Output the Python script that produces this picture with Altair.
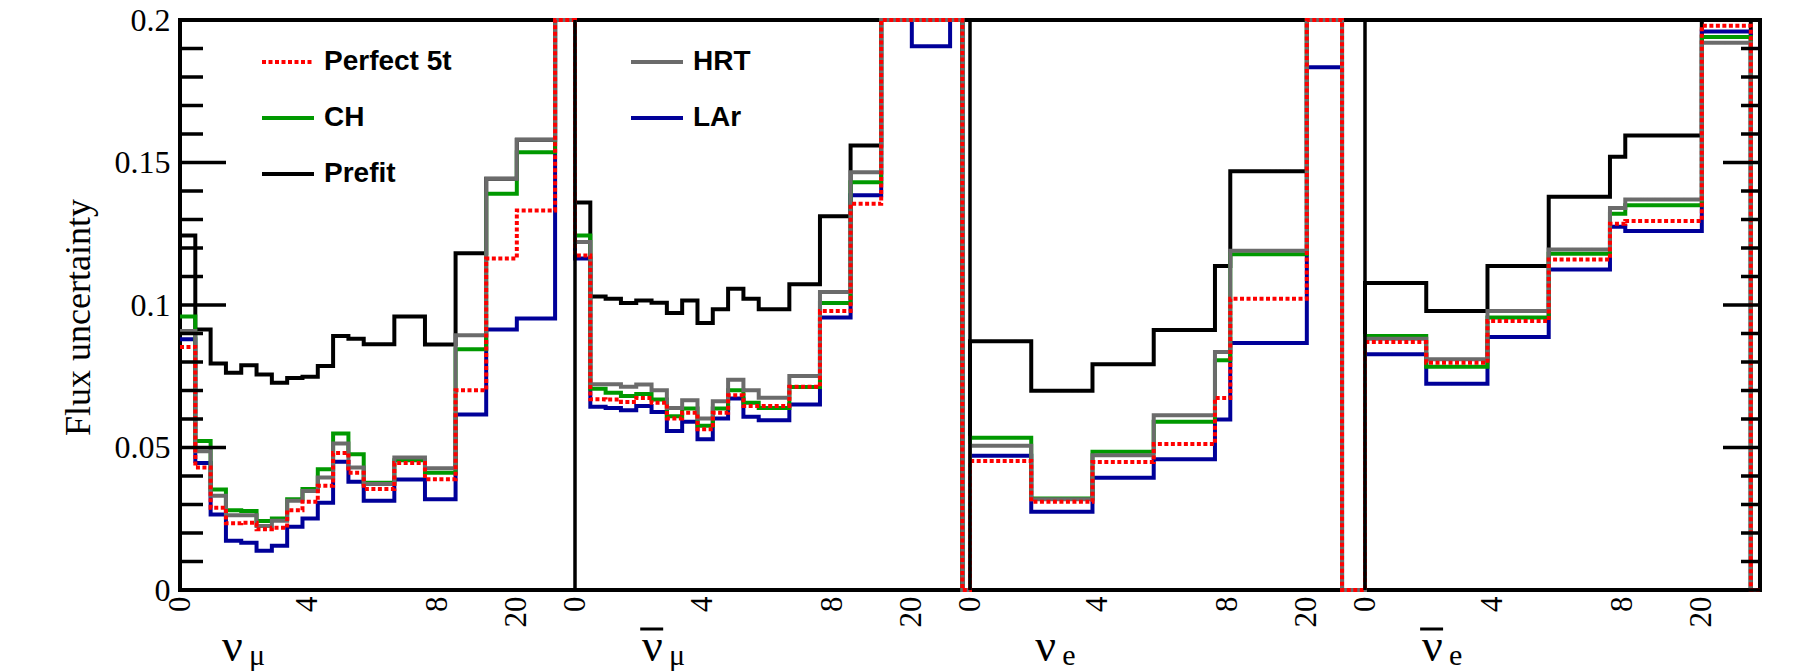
import altair as alt
import pandas as pd

# ---------------- data ----------------
PANELS = ["numu", "numubar", "nue", "nuebar"]
PANEL_WIDTH = 12.9            # axis units spanned by one flavour panel
SERIES = ["Perfect 5t", "CH", "Prefit", "HRT", "LAr"]      # legend order (column-wise, 2 columns)
COLORS = ["#ff0000", "#009900", "#000000", "#6b6b6b", "#000099"]
DASHES = [[4, 2.5], [1, 0], [1, 0], [1, 0], [1, 0]]
DRAW_ORDER = ["Prefit", "LAr", "CH", "HRT", "Perfect 5t"]  # bottom -> top

OFF = 0.25   # bin content above the 0.2 frame (drawn clipped at the top)

# bin edges (axis units) per panel
EDGES_NUMU = [0, 0.5, 1, 1.5, 2, 2.5, 3, 3.5, 4, 4.5, 5, 5.5, 6, 7, 8, 9, 10, 11, 12.25, 12.9]
EDGES_NUMUBAR = [0, 0.5, 1, 1.5, 2, 2.5, 3, 3.5, 4, 4.5, 5, 5.5, 6, 7, 8, 9, 10, 11, 12.25, 12.65, 12.9]
EDGES_NUE = [0, 2, 4, 6, 8, 8.5, 11, 12.15, 12.9]
EDGES_NUEBAR = [0, 2, 4, 6, 8, 8.5, 11, 12.6, 12.9]

# nu_mu
NUMU_PREFIT = [0.1244, 0.0914, 0.0795, 0.0762, 0.0789, 0.0756, 0.0727, 0.0744, 0.0748, 0.0786,
               0.0891, 0.0882, 0.0862, 0.0960, 0.0861, 0.1182, 0.1443, 0.1580, OFF]
NUMU_CH = [0.0960, 0.0523, 0.0353, 0.0280, 0.0277, 0.0242, 0.0251, 0.0318, 0.0354, 0.0424,
           0.0549, 0.0476, 0.0376, 0.0455, 0.0411, 0.0845, 0.1390, 0.1536, OFF]
NUMU_HRT = [0.0909, 0.0487, 0.0331, 0.0262, 0.0262, 0.0225, 0.0243, 0.0313, 0.0347, 0.0395,
            0.0514, 0.0430, 0.0372, 0.0465, 0.0427, 0.0894, 0.1443, 0.1580, OFF]
NUMU_P5T = [0.0853, 0.0430, 0.0289, 0.0234, 0.0236, 0.0213, 0.0218, 0.0280, 0.0310, 0.0366,
            0.0481, 0.0411, 0.0354, 0.0446, 0.0389, 0.0701, 0.1163, 0.1332, OFF]
NUMU_LAR = [0.0880, 0.0446, 0.0265, 0.0173, 0.0166, 0.0138, 0.0155, 0.0222, 0.0251, 0.0306,
            0.0450, 0.0380, 0.0313, 0.0388, 0.0318, 0.0616, 0.0914, 0.0953, OFF]

# anti nu_mu
NUMUBAR_PREFIT = [0.1360, 0.1030, 0.1022, 0.1007, 0.1016, 0.1008, 0.0972, 0.1016, 0.0937, 0.0985,
                  0.1057, 0.1022, 0.0985, 0.1073, 0.1311, 0.1560, OFF, OFF, OFF, 0.0]
NUMUBAR_CH = [0.1244, 0.0706, 0.0692, 0.0681, 0.0688, 0.0668, 0.0610, 0.0637, 0.0576, 0.0637,
              0.0701, 0.0657, 0.0639, 0.0712, 0.1007, 0.1431, OFF, OFF, OFF, 0.0]
NUMUBAR_HRT = [0.1221, 0.0722, 0.0722, 0.0713, 0.0721, 0.0701, 0.0639, 0.0666, 0.0602, 0.0662,
               0.0738, 0.0701, 0.0675, 0.0751, 0.1046, 0.1466, OFF, OFF, OFF, 0.0]
NUMUBAR_P5T = [0.1174, 0.0669, 0.0668, 0.0660, 0.0674, 0.0657, 0.0602, 0.0622, 0.0564, 0.0622,
               0.0683, 0.0646, 0.0646, 0.0713, 0.0979, 0.1355, OFF, OFF, OFF, 0.0]
NUMUBAR_LAR = [0.1163, 0.0643, 0.0639, 0.0631, 0.0646, 0.0625, 0.0558, 0.0590, 0.0529, 0.0602,
               0.0672, 0.0608, 0.0596, 0.0651, 0.0956, 0.1385, OFF, 0.1908, OFF, 0.0]

# nu_e
NUE_PREFIT = [0.0873, 0.0699, 0.0792, 0.0912, 0.1137, 0.1469, OFF, 0.0]
NUE_CH = [0.0534, 0.0321, 0.0485, 0.0590, 0.0806, 0.1178, OFF, 0.0]
NUE_HRT = [0.0506, 0.0318, 0.0473, 0.0613, 0.0835, 0.1190, OFF, 0.0]
NUE_P5T = [0.0453, 0.0310, 0.0449, 0.0512, 0.0674, 0.1022, OFF, 0.0]
NUE_LAR = [0.0471, 0.0275, 0.0394, 0.0459, 0.0598, 0.0867, 0.1834, 0.0]

# anti nu_e
NUEBAR_PREFIT = [0.1077, 0.0979, 0.1137, 0.1380, 0.1520, 0.1595, OFF, 0.0]
NUEBAR_CH = [0.0891, 0.0783, 0.0956, 0.1180, 0.1320, 0.1350, 0.1940, 0.0]
NUEBAR_HRT = [0.0882, 0.0810, 0.0979, 0.1195, 0.1340, 0.1370, 0.1920, 0.0]
NUEBAR_P5T = [0.0870, 0.0797, 0.0944, 0.1160, 0.1285, 0.1295, 0.1980, 0.0]
NUEBAR_LAR = [0.0827, 0.0724, 0.0888, 0.1125, 0.1275, 0.1260, 0.1960, 0.0]

EDGES = {"numu": EDGES_NUMU, "numubar": EDGES_NUMUBAR, "nue": EDGES_NUE, "nuebar": EDGES_NUEBAR}
VALUES = {
    "numu": {"Prefit": NUMU_PREFIT, "CH": NUMU_CH, "HRT": NUMU_HRT, "Perfect 5t": NUMU_P5T, "LAr": NUMU_LAR},
    "numubar": {"Prefit": NUMUBAR_PREFIT, "CH": NUMUBAR_CH, "HRT": NUMUBAR_HRT, "Perfect 5t": NUMUBAR_P5T, "LAr": NUMUBAR_LAR},
    "nue": {"Prefit": NUE_PREFIT, "CH": NUE_CH, "HRT": NUE_HRT, "Perfect 5t": NUE_P5T, "LAr": NUE_LAR},
    "nuebar": {"Prefit": NUEBAR_PREFIT, "CH": NUEBAR_CH, "HRT": NUEBAR_HRT, "Perfect 5t": NUEBAR_P5T, "LAr": NUEBAR_LAR},
}

X_TICK_LABELS = ["0", "4", "8", "20"]
X_TICK_POS = [0, 4.15, 8.4, 11.0]
Y_MAJOR = [0, 0.05, 0.1, 0.15, 0.2]
Y_MINOR = [0.01, 0.02, 0.03, 0.04, 0.06, 0.07, 0.08, 0.09, 0.11, 0.12, 0.13, 0.14,
           0.16, 0.17, 0.18, 0.19]

PANEL_MAIN = ["\u03bd", "\u03bd", "\u03bd", "\u03bd"]
PANEL_ANTI = [False, True, False, True]
PANEL_SUB = ["\u03bc", "\u03bc", "e", "e"]
PANEL_LABEL_POS = [1.37, 2.19, 2.13, 1.86]
BAR_SPAN = 0.75   # overbar length in axis units

# ---------------- build tables ----------------
rows = []
for s in SERIES:
    last = None
    for k, p in enumerate(PANELS):
        e = EDGES[p]
        v = VALUES[p][s]
        for i in range(len(v)):
            rows.append({"series": s, "x": k * PANEL_WIDTH + e[i], "y": v[i]})
            last = v[i]
    rows.append({"series": s, "x": len(PANELS) * PANEL_WIDTH, "y": last})
steps = pd.DataFrame(rows)

xvals, xlabs = [], []
for k in range(len(PANELS)):
    for pos, lab in zip(X_TICK_POS, X_TICK_LABELS):
        xvals.append(round(k * PANEL_WIDTH + pos, 6))
        xlabs.append(lab)
label_expr = "[" + ",".join("'%s'" % l for l in xlabs) + "][indexof([" + \
    ",".join(repr(v) for v in xvals) + "], datum.value)]"

W, H = 1580, 570
SERIF = "Liberation Serif"

xscale = alt.Scale(domain=[0, len(PANELS) * PANEL_WIDTH], nice=False, zero=False)
yscale = alt.Scale(domain=[0, 0.2], nice=False, zero=False, clamp=True)

xaxis = alt.Axis(values=xvals, labelExpr=label_expr, labelAngle=270, labelAlign="right",
                 labelBaseline="middle", labelFont=SERIF, labelFontSize=31, labelColor="black",
                 labelPadding=6, ticks=False, domain=False, grid=False, title=None,
                 labelOverlap=False, labelFlush=False)
yaxis = alt.Axis(values=Y_MAJOR, format="~g", labelFont=SERIF, labelFontSize=32, labelColor="black",
                 labelPadding=10, ticks=False, domain=False, grid=False, labelOverlap=False,
                 labelFlush=False, title="Flux uncertainty", titleFont=SERIF, titleFontSize=36,
                 titleFontWeight="normal", titleColor="black", titleAngle=270, titleX=-102,
                 titleY=H / 2 + 12, titleAlign="center", titleBaseline="middle")

X = alt.X("x:Q", scale=xscale, axis=xaxis)
Y = alt.Y("y:Q", scale=yscale, axis=yaxis)

legend = alt.Legend(title=None, orient="none", legendX=80, legendY=28, direction="vertical",
                    columns=2, columnPadding=177, rowPadding=28, symbolType="stroke",
                    symbolSize=2704, symbolStrokeWidth=4, labelFont="Liberation Sans",
                    labelFontWeight="bold", labelFontSize=28, labelColor="black", labelOffset=8,
                    padding=0, clipHeight=28, symbolOffset=0, labelLimit=400)
color = alt.Color("series:N", scale=alt.Scale(domain=SERIES, range=COLORS), legend=legend)
dash = alt.StrokeDash("series:N", scale=alt.Scale(domain=SERIES, range=DASHES), legend=legend)

layers = []
for s in DRAW_ORDER:
    layers.append(
        alt.Chart(steps[steps.series == s]).mark_line(interpolate="step-after", strokeWidth=4)
        .encode(x=X, y=Y, color=color, strokeDash=dash)
    )

# panel separators
sep = pd.DataFrame({"x": [k * PANEL_WIDTH for k in range(1, len(PANELS))],
                    "y": [0.0] * (len(PANELS) - 1), "y2": [0.2] * (len(PANELS) - 1)})
layers.append(alt.Chart(sep).mark_rule(color="black", strokeWidth=3.5)
              .encode(x=X, y=Y, y2="y2:Q"))

# inward ticks (left and right frame)
maj = pd.DataFrame({"y": Y_MAJOR})
mnr = pd.DataFrame({"y": Y_MINOR})
for df, ln_l, ln_r in [(maj, 46, 37), (mnr, 23, 19)]:
    layers.append(alt.Chart(df).mark_rule(color="black", strokeWidth=3.5)
                  .encode(y=Y, x=alt.value(0), x2=alt.value(ln_l)))
    layers.append(alt.Chart(df).mark_rule(color="black", strokeWidth=3.5)
                  .encode(y=Y, x=alt.value(W), x2=alt.value(W - ln_r)))

# flavour labels under each panel
lab = pd.DataFrame({"x": [k * PANEL_WIDTH + PANEL_LABEL_POS[k] for k in range(len(PANELS))],
                    "main": PANEL_MAIN, "sub": PANEL_SUB})
layers.append(alt.Chart(lab).mark_text(font=SERIF, fontSize=46, align="left", baseline="alphabetic",
                                       color="black")
              .encode(x=X, y=alt.value(641), text="main:N"))
layers.append(alt.Chart(lab).mark_text(font=SERIF, fontSize=30, align="left", baseline="alphabetic",
                                       color="black", dx=27)
              .encode(x=X, y=alt.value(645), text="sub:N"))

# overbars of the antineutrino labels
bars = pd.DataFrame({
    "x": [k * PANEL_WIDTH + PANEL_LABEL_POS[k] - 0.06 for k in range(len(PANELS)) if PANEL_ANTI[k]],
    "x2": [k * PANEL_WIDTH + PANEL_LABEL_POS[k] - 0.06 + BAR_SPAN for k in range(len(PANELS)) if PANEL_ANTI[k]],
})
layers.append(alt.Chart(bars).mark_rule(color="black", strokeWidth=3)
              .encode(x=X, x2="x2:Q", y=alt.value(609)))

chart = alt.layer(*layers).properties(
    width=W, height=H,
    autosize=alt.AutoSizeParams(type="none"),
    padding={"left": 172, "top": 12, "right": 28, "bottom": 82},
    background="white",
).configure_view(stroke="black", strokeWidth=4).resolve_scale(color="shared", strokeDash="shared")

chart.save("out.html", embed_options={"renderer": "svg", "actions": False})
